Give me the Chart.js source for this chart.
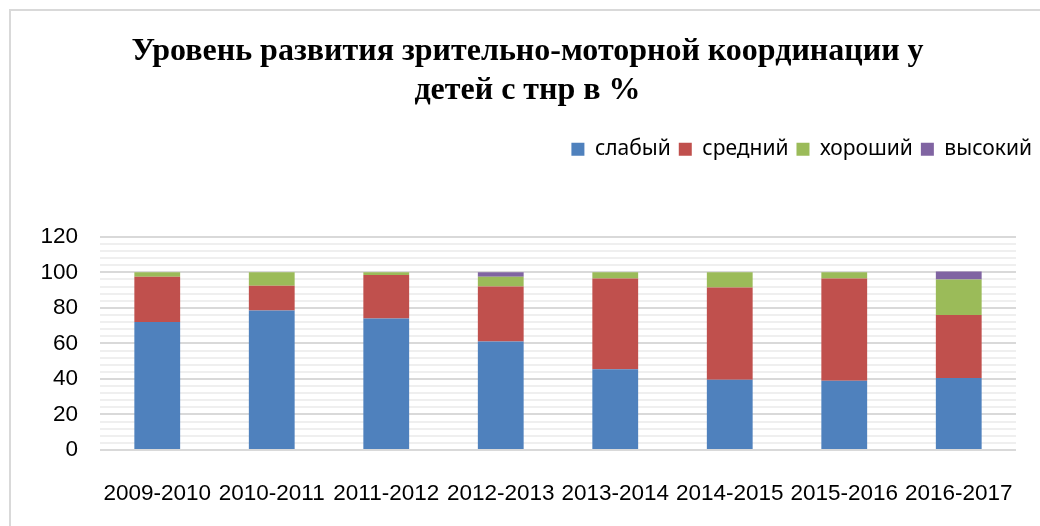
<!DOCTYPE html>
<html lang="ru">
<head>
  <meta charset="UTF-8">
  <title>Уровень развития зрительно-моторной координации</title>
  <script src="https://cdn.jsdelivr.net/npm/chart.js"></script>
  <style>
    body {
      margin: 0;
      padding: 0;
      background: #fff;
      overflow: hidden;
    }
    .wrap {
      position: relative;
      width: 1040px;
      height: 526px;
    }
    .frame {
      position: absolute;
      left: 9px;
      top: 9px;
      width: 1100px;
      height: 600px;
      border: 2px solid #d9d9d9;
      pointer-events: none;
    }
  </style>
</head>
<body>
  <div class="wrap">
    <canvas id="chart" width="1040" height="526"></canvas>
    <div class="frame"></div>
  </div>

  <script>
    // данные по годам
    const years = ['2009-2010', '2010-2011', '2011-2012', '2012-2013', '2013-2014', '2014-2015', '2015-2016', '2016-2017'];
    const weak   = [72, 78.5, 74, 61, 45.5, 39.5, 39, 40.5];
    const middle = [25.5, 14, 24.5, 31, 51, 52, 57.5, 35.5];
    const good   = [2.5, 7.5, 1.5, 5.5, 3.5, 8.5, 3.5, 20];
    const high   = [0, 0, 0, 2.5, 0, 0, 0, 4.5];

    const seriesNames = ['слабый', 'средний', 'хороший', 'высокий'];
    const seriesColors = ['#4F81BD', '#C0504D', '#9BBB59', '#8064A2'];

    // немного места под легендой
    const legendSpace = {
      id: 'legendSpace',
      beforeInit(chart) {
        const fit = chart.legend.fit;
        chart.legend.fit = function () {
          fit.bind(chart.legend)();
          this.height += 67;
        };
      }
    };

    const ctx = document.getElementById('chart').getContext('2d');
    new Chart(ctx, {
      type: 'bar',
      data: {
        labels: years,
        datasets: [weak, middle, good, high].map((d, i) => ({
          label: seriesNames[i],
          data: d,
          backgroundColor: seriesColors[i],
          categoryPercentage: 0.8,
          barPercentage: 0.5
        }))
      },
      options: {
        responsive: false,
        animation: false,
        layout: { padding: { left: 15, right: 0, top: 12, bottom: 0 } },
        plugins: {
          title: {
            display: true,
            text: ['Уровень развития зрительно-моторной координации у', 'детей с тнр в %'],
            color: '#000',
            font: { family: 'Liberation Serif', size: 32, weight: 'bold', lineHeight: 1.2 },
            padding: { top: 21, bottom: 21 }
          },
          legend: {
            position: 'top',
            align: 'end',
            labels: {
              color: '#000',
              boxWidth: 13,
              boxHeight: 13,
              padding: 8,
              font: { family: 'Noto Sans', size: 21 }
            }
          },
          tooltip: { enabled: false }
        },
        scales: {
          x: {
            stacked: true,
            grid: { display: false },
            border: { display: false },
            ticks: { color: '#000', padding: 22, font: { family: 'Liberation Sans', size: 22.5 } },
            afterFit(s) { s.height = 76; }
          },
          y: {
            stacked: true,
            min: 0,
            max: 120,
            border: { display: false },
            grid: {
              drawTicks: false,
              color: c => c.tick.value % 20 === 0 ? '#d9d9d9' : '#efefef',
              lineWidth: 2
            },
            ticks: {
              stepSize: 4,
              autoSkip: false,
              padding: 22,
              color: '#000',
              font: { family: 'Liberation Sans', size: 22.5 },
              callback: v => v % 20 === 0 ? v : ''
            },
            afterFit(s) { s.width = 85; }
          },
          yr: {
            position: 'right',
            display: true,
            grid: { display: false },
            border: { display: false },
            ticks: { display: false },
            afterFit(s) { s.width = 24; }
          }
        }
      },
      plugins: [legendSpace]
    });
  </script>
</body>
</html>
